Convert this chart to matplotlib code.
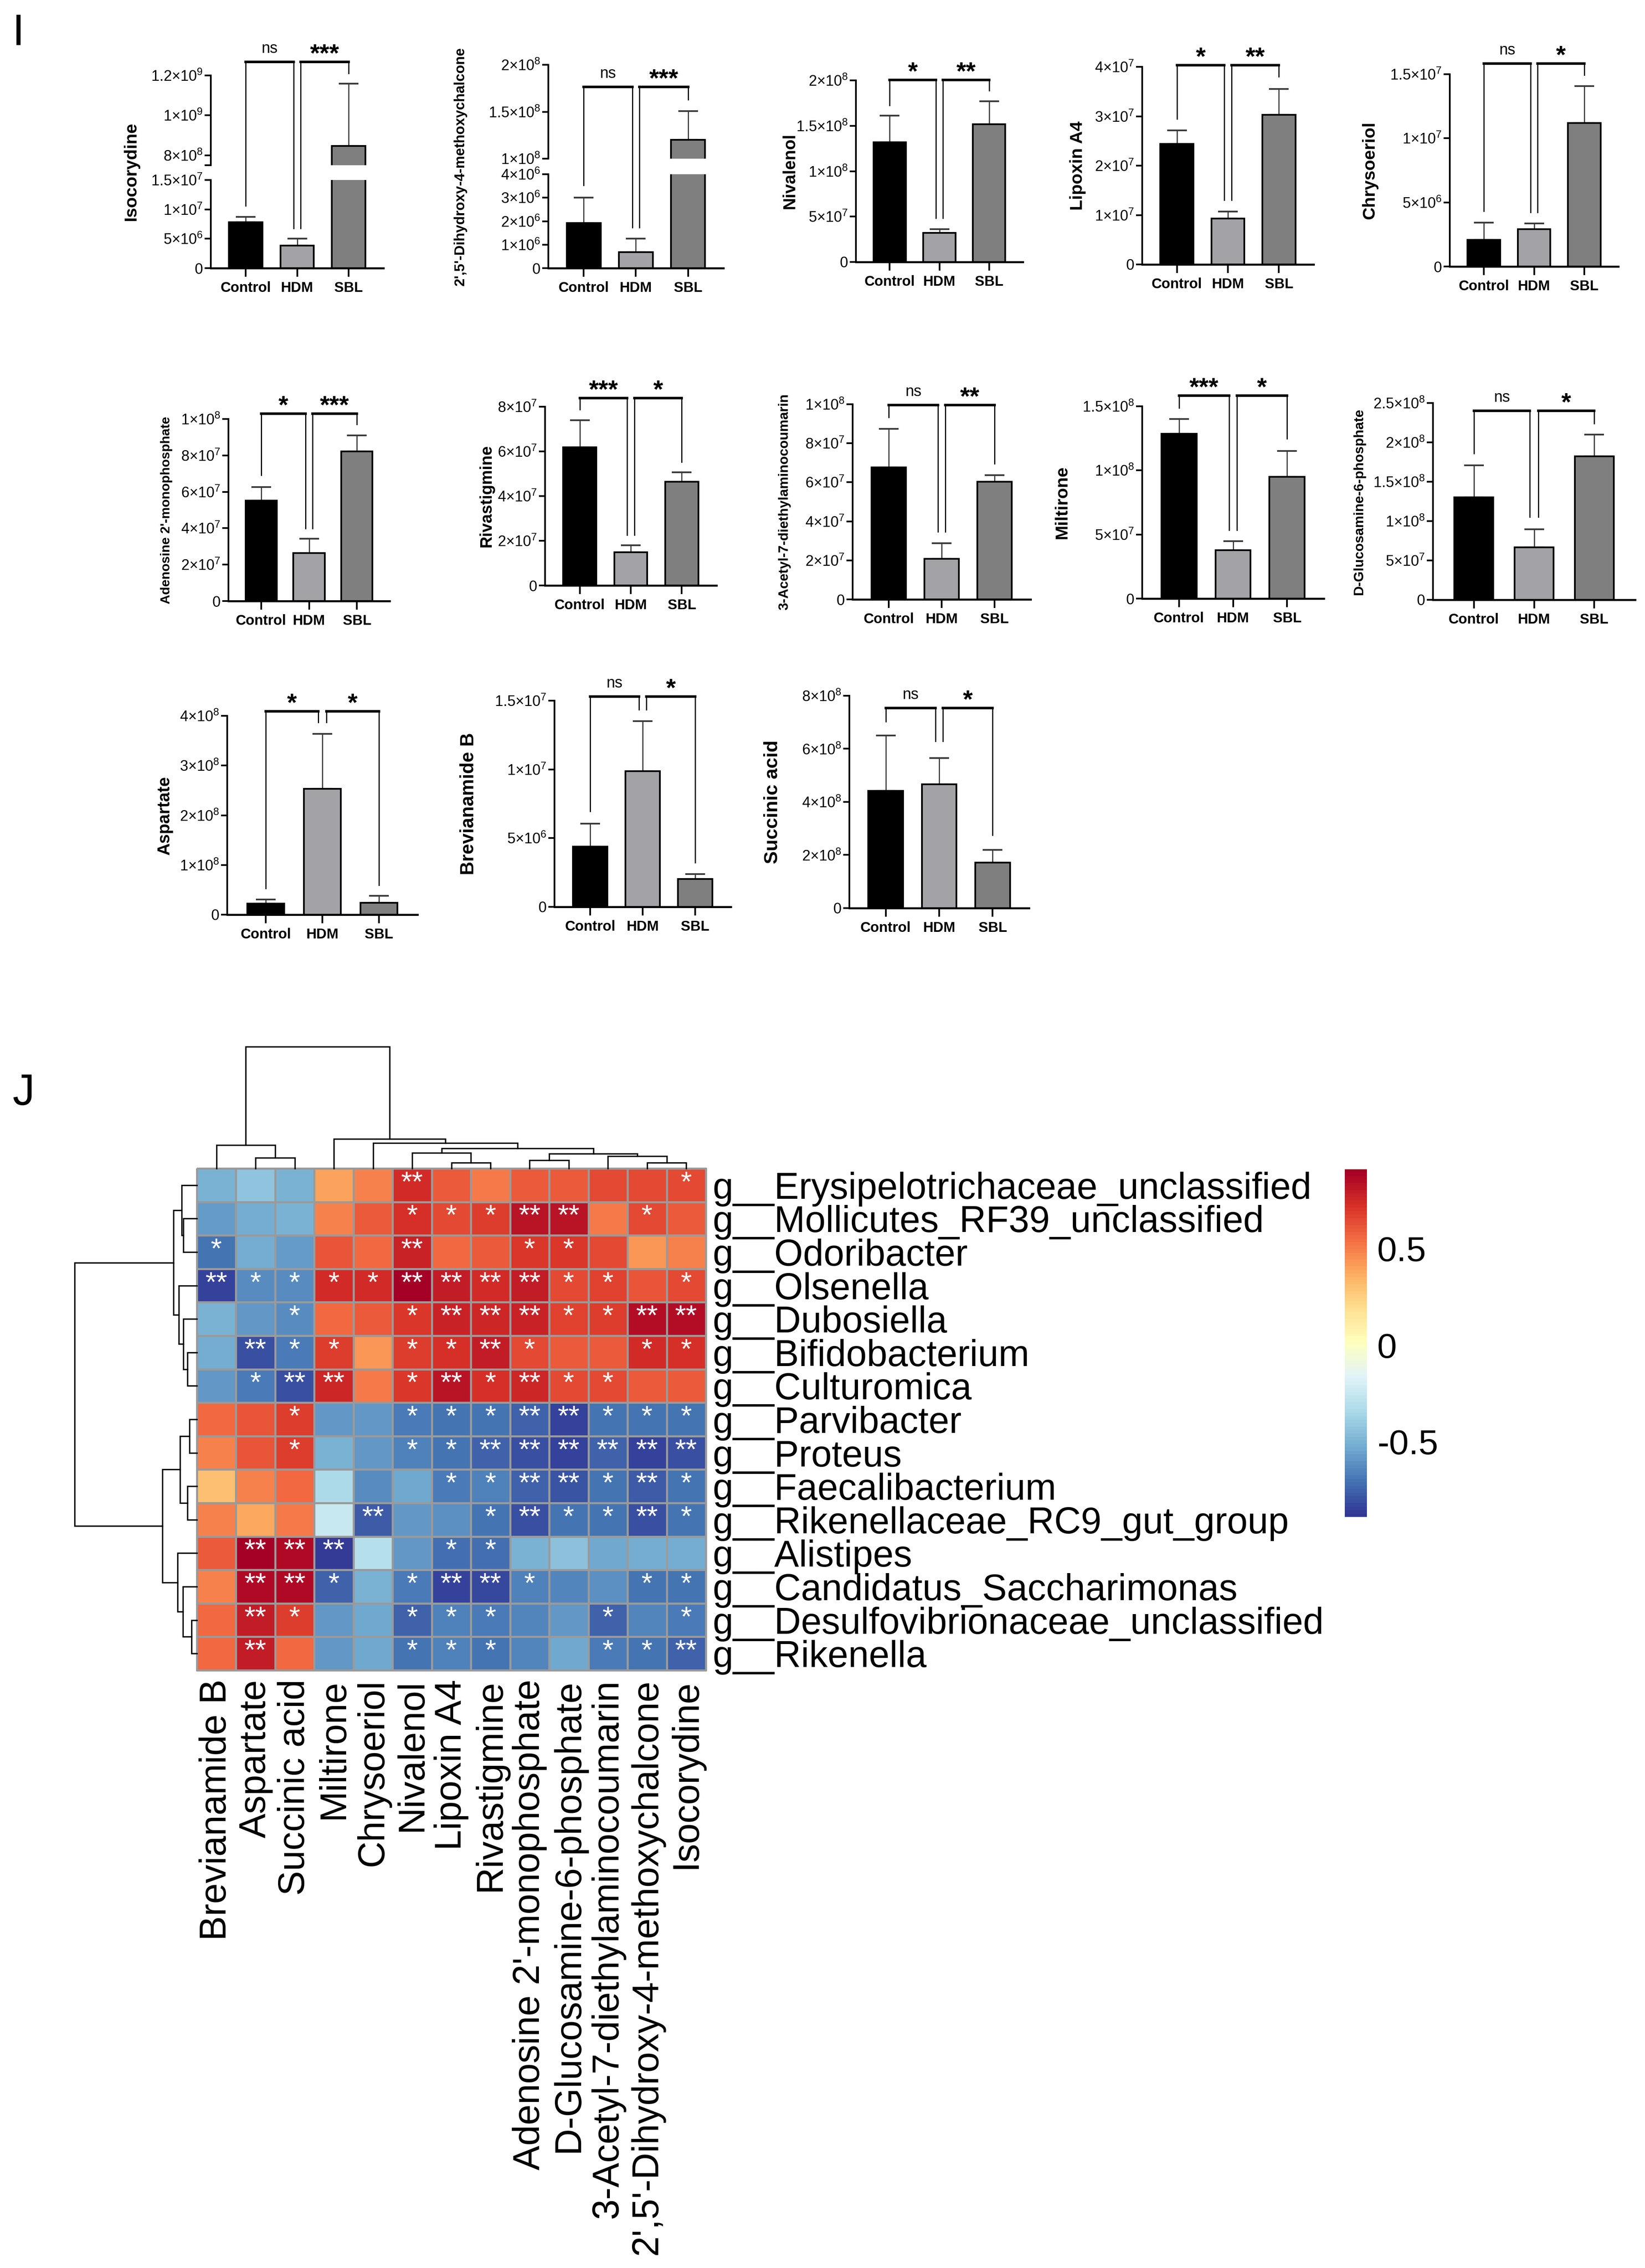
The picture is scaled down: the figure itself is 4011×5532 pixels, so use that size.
import numpy as np
import matplotlib
matplotlib.use("Agg")
import matplotlib.pyplot as plt
from matplotlib.lines import Line2D
from matplotlib.colors import ListedColormap

plt.rcParams['font.family'] = ['Liberation Sans', 'DejaVu Sans']
plt.rcParams['mathtext.fontset'] = 'custom'
plt.rcParams['mathtext.rm'] = 'Liberation Sans'
plt.rcParams['mathtext.it'] = 'Liberation Sans:italic'
plt.rcParams['mathtext.bf'] = 'Liberation Sans:bold'
plt.rcParams['axes.unicode_minus'] = False

W, H, DPI = 4011, 5532, 100

# ---------------- panel I: bar charts ----------------
metabolites = ["Isocorydine", "2',5'-Dihydroxy-4-methoxychalcone", "Nivalenol", "Lipoxin A4",
               "Chrysoeriol", "Adenosine 2'-monophosphate", "Rivastigmine",
               "3-Acetyl-7-diethylaminocoumarin", "Miltirone", "D-Glucosamine-6-phosphate",
               "Aspartate", "Brevianamide B", "Succinic acid"]
groups = ["Control", "HDM", "SBL"]
ctrl_mean = [7.83e6, 1.92e6, 1.32e8, 2.44e7, 2.09e6, 5.51e7, 6.18e7, 6.77e7, 1.287e8, 1.302e8, 2.2e7, 4.38e6, 4.42e8]
hdm_mean = [3.87e6, 6.75e5, 3.2e7, 9.3e6, 2.91e6, 2.63e7, 1.49e7, 2.09e7, 3.76e7, 6.65e7, 2.534e8, 9.88e6, 4.66e8]
sbl_mean = [8.47e8, 1.2e8, 1.517e8, 3.03e7, 1.121e7, 8.22e7, 4.64e7, 6.03e7, 9.49e7, 1.824e8, 2.4e7, 2.02e6, 1.72e8]
ctrl_err = [8.7e5, 1.08e6, 2.9e7, 2.7e6, 1.33e6, 7.6e6, 1.22e7, 1.97e7, 1.13e7, 4.06e7, 8.6e6, 1.68e6, 2.08e8]
hdm_err = [1.13e6, 5.75e5, 4.3e6, 1.4e6, 4.6e5, 7.9e6, 3.0e6, 7.8e6, 7.3e6, 2.33e7, 1.106e8, 3.62e6, 1.0e8]
sbl_err = [3.11e8, 3.05e7, 2.53e7, 5.2e6, 2.87e6, 8.7e6, 4.2e6, 3.3e6, 2.03e7, 2.76e7, 1.4e7, 3.6e5, 4.7e7]
sig_ctrl_hdm = ['ns', 'ns', '*', '*', 'ns', '*', '***', 'ns', '***', 'ns', '*', 'ns', 'ns']
sig_hdm_sbl = ['***', '***', '**', '**', '*', '***', '*', '**', '*', '*', '*', '*', '*']
bracket_top = [1.268e9, 1.764e8, 2.005e8, 4.03e7, 1.583e7, 1.029e8, 8.39e7, 9.96e7, 1.583e8, 2.401e8, 4.09e8, 1.53e7, 7.54e8]
leg_ctrl = [1.06e7, 3.53e6, 1.725e8, 2.95e7, 4.32e6, 6.91e7, 7.87e7, 9.33e7, 1.487e8, 1.859e8, 5.28e7, 6.95e6, 7.03e8]
leg_hdm = [6.75e6, 1.73e6, 4.83e7, 1.30e7, 4.22e6, 3.99e7, 2.26e7, 3.47e7, 5.34e7, 1.052e8, 3.87e8, 1.434e7, 6.29e8]
leg_sbl = [1.21e9, 1.629e8, 1.887e8, 3.8e7, 1.493e7, 9.71e7, 5.52e7, 6.95e7, 1.247e8, 2.24e8, 5.94e7, 3.22e6, 2.75e8]
y_top = [1.2e9, 2e8, 2e8, 4e7, 1.5e7, 1e8, 8e7, 1e8, 1.5e8, 2.5e8, 4e8, 1.5e7, 8e8]
y_ticks = [[0, 5e6, 1e7, 1.5e7, 8e8, 1e9, 1.2e9],
           [0, 1e6, 2e6, 3e6, 4e6, 1e8, 1.5e8, 2e8],
           [0, 5e7, 1e8, 1.5e8, 2e8],
           [0, 1e7, 2e7, 3e7, 4e7],
           [0, 5e6, 1e7, 1.5e7],
           [0, 2e7, 4e7, 6e7, 8e7, 1e8],
           [0, 2e7, 4e7, 6e7, 8e7],
           [0, 2e7, 4e7, 6e7, 8e7, 1e8],
           [0, 5e7, 1e8, 1.5e8],
           [0, 5e7, 1e8, 1.5e8, 2e8, 2.5e8],
           [0, 1e8, 2e8, 3e8, 4e8],
           [0, 5e6, 1e7, 1.5e7],
           [0, 2e8, 4e8, 6e8, 8e8]]
# broken y axes: (top of lower part, bottom of upper part)
axis_break = {0: (1.5e7, 7.5e8), 1: (4e6, 1e8)}

# layout in pixels: y-spine x, right end, baseline y, top y
panel_box = [(514, 935, 654, 184), (1337, 1764, 654, 158), (2087, 2494, 639, 196),
             (2785, 3203, 645, 163), (3535, 3946, 650, 181),
             (557, 950, 1466, 1022), (1329, 1747, 1428, 992), (2079, 2513, 1462, 986),
             (2785, 3228, 1460, 991), (3494, 3987, 1463, 983),
             (554, 1018, 2231, 1746), (1352, 1782, 2212, 1709), (2071, 2509, 2215, 1697)]
break_px = {0: (439, 403), 1: (425, 387)}
ylabel_off = [194, 215, 161, 157, 195, 151, 143, 166, 195, 180, 152, 209, 187]
ylabel_size = [31, 25, 30, 31, 31, 23, 29, 24, 31, 24, 30, 33, 34]
bar_colors = ['#000000', '#a3a3a7', '#7f7f7f']

# ---------------- panel J: correlation heatmap ----------------
genera = ["g__Erysipelotrichaceae_unclassified", "g__Mollicutes_RF39_unclassified", "g__Odoribacter",
          "g__Olsenella", "g__Dubosiella", "g__Bifidobacterium", "g__Culturomica", "g__Parvibacter",
          "g__Proteus", "g__Faecalibacterium", "g__Rikenellaceae_RC9_gut_group", "g__Alistipes",
          "g__Candidatus_Saccharimonas", "g__Desulfovibrionaceae_unclassified", "g__Rikenella"]
hm_metabolites = ["Brevianamide B", "Aspartate", "Succinic acid", "Miltirone", "Chrysoeriol", "Nivalenol",
                  "Lipoxin A4", "Rivastigmine", "Adenosine 2'-monophosphate", "D-Glucosamine-6-phosphate",
                  "3-Acetyl-7-diethylaminocoumarin", "2',5'-Dihydroxy-4-methoxychalcone", "Isocorydine"]
corr = [
    [-0.50, -0.44, -0.50, 0.40, 0.48, 0.73, 0.60, 0.51, 0.60, 0.59, 0.64, 0.64, 0.64],
    [-0.58, -0.52, -0.50, 0.48, 0.59, 0.72, 0.65, 0.69, 0.82, 0.82, 0.51, 0.64, 0.59],
    [-0.71, -0.52, -0.58, 0.62, 0.56, 0.78, 0.56, 0.60, 0.70, 0.70, 0.64, 0.43, 0.48],
    [-0.84, -0.63, -0.63, 0.73, 0.73, 0.91, 0.79, 0.73, 0.79, 0.65, 0.66, 0.62, 0.64],
    [-0.50, -0.60, -0.63, 0.56, 0.59, 0.71, 0.77, 0.76, 0.77, 0.66, 0.69, 0.85, 0.85],
    [-0.52, -0.80, -0.69, 0.69, 0.43, 0.69, 0.72, 0.80, 0.64, 0.60, 0.59, 0.73, 0.72],
    [-0.60, -0.69, -0.80, 0.75, 0.51, 0.70, 0.82, 0.72, 0.76, 0.65, 0.64, 0.60, 0.59],
    [0.56, 0.62, 0.69, -0.60, -0.59, -0.69, -0.71, -0.70, -0.76, -0.84, -0.71, -0.70, -0.70],
    [0.48, 0.62, 0.69, -0.50, -0.60, -0.67, -0.71, -0.75, -0.80, -0.84, -0.76, -0.84, -0.80],
    [0.30, 0.48, 0.56, -0.35, -0.63, -0.54, -0.69, -0.67, -0.75, -0.79, -0.70, -0.78, -0.71],
    [0.48, 0.37, 0.51, -0.25, -0.78, -0.60, -0.61, -0.71, -0.80, -0.71, -0.70, -0.80, -0.71],
    [0.60, 0.90, 0.87, -0.87, -0.30, -0.60, -0.72, -0.72, -0.50, -0.45, -0.54, -0.53, -0.52],
    [0.48, 0.87, 0.86, -0.75, -0.51, -0.69, -0.84, -0.82, -0.67, -0.64, -0.62, -0.70, -0.70],
    [0.56, 0.80, 0.69, -0.60, -0.54, -0.75, -0.67, -0.69, -0.64, -0.60, -0.75, -0.64, -0.69],
    [0.56, 0.80, 0.56, -0.60, -0.54, -0.70, -0.67, -0.70, -0.64, -0.54, -0.69, -0.70, -0.75],
]
stars = [
    ["", "", "", "", "", "**", "", "", "", "", "", "", "*"],
    ["", "", "", "", "", "*", "*", "*", "**", "**", "", "*", ""],
    ["*", "", "", "", "", "**", "", "", "*", "*", "", "", ""],
    ["**", "*", "*", "*", "*", "**", "**", "**", "**", "*", "*", "", "*"],
    ["", "", "*", "", "", "*", "**", "**", "**", "*", "*", "**", "**"],
    ["", "**", "*", "*", "", "*", "*", "**", "*", "", "", "*", "*"],
    ["", "*", "**", "**", "", "*", "**", "*", "**", "*", "*", "", ""],
    ["", "", "*", "", "", "*", "*", "*", "**", "**", "*", "*", "*"],
    ["", "", "*", "", "", "*", "*", "**", "**", "**", "**", "**", "**"],
    ["", "", "", "", "", "", "*", "*", "**", "**", "*", "**", "*"],
    ["", "", "", "", "**", "", "", "*", "**", "*", "*", "**", "*"],
    ["", "**", "**", "**", "", "", "*", "*", "", "", "", "", ""],
    ["", "**", "**", "*", "", "*", "**", "**", "*", "", "", "*", "*"],
    ["", "**", "*", "", "", "*", "*", "*", "", "", "*", "", "*"],
    ["", "**", "", "", "", "*", "*", "*", "", "", "*", "*", "**"],
]
corr_range = (-0.89, 0.91)
# merges (child_a, child_b, height); leaves are in display order, node n+k is merge k
col_merges = [(1, 2, 26), (0, 13, 57), (6, 7, 14), (5, 15, 38), (8, 9, 20), (11, 12, 14),
              (10, 18, 30), (17, 19, 36), (16, 20, 49), (4, 21, 62), (3, 22, 72), (14, 23, 297)]
row_merges = [(1, 2, 33), (0, 15, 37), (5, 6, 23), (4, 17, 33), (3, 18, 44), (16, 19, 57),
              (7, 8, 18), (9, 10, 23), (21, 22, 41), (13, 14, 13), (12, 24, 34), (11, 25, 47),
              (23, 26, 84), (20, 27, 298)]


def px_rect(left, top, right, bottom):
    return [left / W, 1 - bottom / H, (right - left) / W, (bottom - top) / H]


def sci_label(v):
    if v == 0:
        return '0'
    e = int(np.floor(np.log10(v) + 1e-9))
    m = v / 10 ** e
    return r'$\mathregular{%g{\times}10^{%d}}$' % (round(m, 2), e)


def style_axis(ax, ticks, labels, bottom=True):
    for s in ['top', 'right']:
        ax.spines[s].set_visible(False)
    ax.spines['left'].set_linewidth(3)
    ax.spines['bottom'].set_linewidth(3.5)
    ax.set_yticks(ticks)
    ax.set_yticklabels(labels, fontsize=26)
    ax.tick_params(axis='y', length=11, width=3, pad=3)
    if bottom:
        ax.set_xticks(range(3))
        ax.set_xticklabels(groups, fontsize=25, fontweight='bold')
        ax.tick_params(axis='x', length=15, width=3, pad=8)
    else:
        ax.spines['bottom'].set_visible(False)
        ax.set_xticks([])


def dendro_segments(merges, n_leaves):
    pos = {i: i + 0.5 for i in range(n_leaves)}
    hgt = {i: 0.0 for i in range(n_leaves)}
    segs = []
    for k, (a, b, h) in enumerate(merges):
        segs.append([(pos[a], hgt[a]), (pos[a], h), (pos[b], h), (pos[b], hgt[b])])
        pos[n_leaves + k] = (pos[a] + pos[b]) / 2
        hgt[n_leaves + k] = h
    return segs


fig = plt.figure(figsize=(W / DPI, H / DPI), dpi=DPI)
inv = fig.transFigure.inverted()

for i, name in enumerate(metabolites):
    sx, rx, by, ty = panel_box[i]
    means = [ctrl_mean[i], hdm_mean[i], sbl_mean[i]]
    errs = [ctrl_err[i], hdm_err[i], sbl_err[i]]
    if i in axis_break:
        lo_max, up_min = axis_break[i]
        lo_top, up_bot = break_px[i]
        ax_lo = fig.add_axes(px_rect(sx, lo_top, rx, by))
        ax_up = fig.add_axes(px_rect(sx, ty, rx, up_bot))
        ax_lo.set_ylim(0, lo_max)
        ax_up.set_ylim(up_min, y_top[i])
        axes = [ax_lo, ax_up]
        lo_ticks = [t for t in y_ticks[i] if t <= lo_max]
        up_ticks = [up_min] + [t for t in y_ticks[i] if t > up_min]
        up_labels = [sci_label(t) if t in y_ticks[i] else '' for t in up_ticks]
        style_axis(ax_lo, lo_ticks, [sci_label(t) for t in lo_ticks])
        style_axis(ax_up, up_ticks, up_labels, bottom=False)
    else:
        ax = fig.add_axes(px_rect(sx, ty, rx, by))
        ax.set_ylim(0, y_top[i])
        axes = [ax]
        style_axis(ax, y_ticks[i], [sci_label(t) for t in y_ticks[i]])
    for ax in axes:
        ax.bar(range(3), means, width=0.65, color=bar_colors, edgecolor='black', linewidth=3, zorder=2)
        ax.errorbar(range(3), means, yerr=[[0, 0, 0], errs], fmt='none', ecolor='#3a3a3a',
                    elinewidth=2, capsize=17, capthick=3, zorder=1)
        ax.set_xlim(-0.68, 2.68)
        ax.patch.set_alpha(0)

    def to_fig(x, v, axes=axes, i=i):
        ax = axes[0]
        if len(axes) == 2 and v > axis_break[i][0]:
            ax = axes[1]
        return inv.transform(ax.transData.transform((x, v)))

    # significance brackets
    for (x0, x1, l0, l1, lab) in [(0, 0.93, leg_ctrl[i], leg_hdm[i], sig_ctrl_hdm[i]),
                                  (1.07, 2, leg_hdm[i], leg_sbl[i], sig_hdm_sbl[i])]:
        p0, p1 = to_fig(x0, l0), to_fig(x0, bracket_top[i])
        p2, p3 = to_fig(x1, bracket_top[i]), to_fig(x1, l1)
        fig.add_artist(Line2D([p0[0], p1[0]], [p0[1], p1[1]], color='black', lw=2))
        fig.add_artist(Line2D([p3[0], p2[0]], [p3[1], p2[1]], color='black', lw=2))
        fig.add_artist(Line2D([p1[0], p2[0]], [p1[1], p2[1]], color='black', lw=4.5,
                              solid_capstyle='projecting'))
        mx = (p1[0] + p2[0]) / 2
        if lab == 'ns':
            fig.text(mx, p1[1] + 22 / H, lab, fontsize=27, ha='center', va='baseline')
        else:
            fig.text(mx, p1[1] + 2 / H, lab, fontsize=44, fontweight='bold', ha='center', va='baseline')

    fig.text((sx - ylabel_off[i]) / W, 1 - (by + ty) / 2 / H, name, rotation=90, ha='center', va='center',
             fontsize=ylabel_size[i], fontweight='bold')

fig.text(30 / W, 1 - 110 / H, 'I', fontsize=78, va='baseline')
fig.text(30 / W, 1 - 2695 / H, 'J', fontsize=78, va='baseline')

# ---------------- heatmap ----------------
hm_l, hm_t, hm_r, hm_b = 480, 2850, 1721, 4074
cmap = ListedColormap(plt.get_cmap('RdYlBu_r')(np.linspace(0, 1, 100)))
ax_hm = fig.add_axes(px_rect(hm_l, hm_t, hm_r, hm_b))
mesh = ax_hm.pcolormesh(np.array(corr), cmap=cmap, vmin=corr_range[0], vmax=corr_range[1],
                        edgecolors='#9a9a9a', linewidth=2.5)
mesh.set_clip_on(False)
ax_hm.set_xlim(0, len(hm_metabolites))
ax_hm.set_ylim(len(genera), 0)
for s in ax_hm.spines.values():
    s.set_visible(False)
for r in range(len(genera)):
    for c in range(len(hm_metabolites)):
        if stars[r][c]:
            ax_hm.text(c + 0.5, r + 0.45, stars[r][c], ha='center', va='center', color='white', fontsize=50)
ax_hm.yaxis.tick_right()
ax_hm.set_yticks(np.arange(len(genera)) + 0.5)
ax_hm.set_yticklabels(genera, fontsize=65)
ax_hm.set_xticks(np.arange(len(hm_metabolites)) + 0.5)
ax_hm.set_xticklabels(hm_metabolites, fontsize=65, rotation=90, ha='center', va='top')
ax_hm.tick_params(length=0)
ax_hm.tick_params(axis='y', pad=12)
ax_hm.tick_params(axis='x', pad=16)

# column dendrogram
ax_cd = fig.add_axes(px_rect(hm_l, hm_t - 300, hm_r, hm_t))
for seg in dendro_segments(col_merges, len(hm_metabolites)):
    xs, ys = zip(*seg)
    ax_cd.plot(xs, ys, color='black', lw=2.4, solid_joinstyle='miter', clip_on=False)
ax_cd.set_xlim(0, len(hm_metabolites))
ax_cd.set_ylim(0, 300)
ax_cd.axis('off')

# row dendrogram
ax_rd = fig.add_axes(px_rect(hm_l - 300, hm_t, hm_l, hm_b))
for seg in dendro_segments(row_merges, len(genera)):
    ys, xs = zip(*seg)
    ax_rd.plot(xs, ys, color='black', lw=2.4, solid_joinstyle='miter', clip_on=False)
ax_rd.set_ylim(len(genera), 0)
ax_rd.set_xlim(300, 0)
ax_rd.axis('off')

# colour legend
ax_cb = fig.add_axes(px_rect(3279, 2852, 3333, 3700))
cb = fig.colorbar(mesh, cax=ax_cb, ticks=[-0.5, 0, 0.5])
cb.outline.set_visible(False)
cb.set_ticklabels(['-0.5', '0', '0.5'])
cb.ax.tick_params(length=0, labelsize=62, pad=18)

fig.savefig('out.png', dpi=DPI, facecolor='white')
